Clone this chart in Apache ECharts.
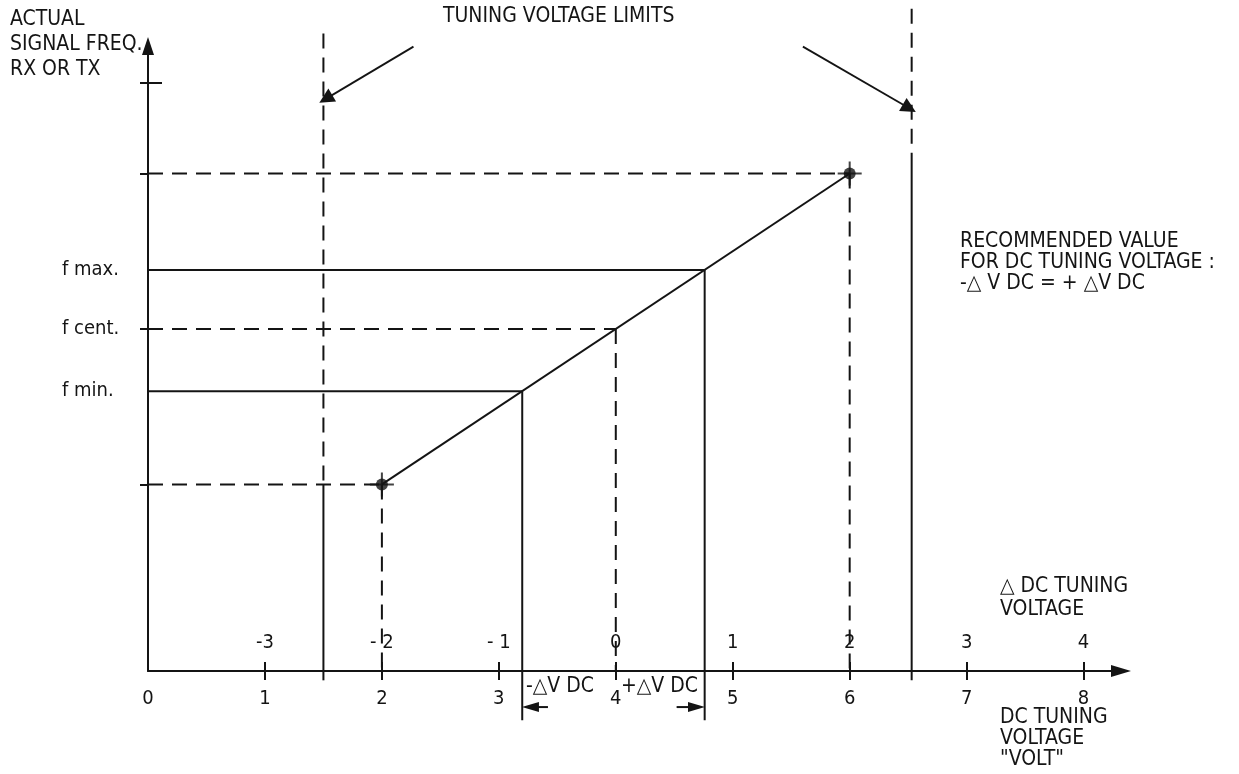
<!DOCTYPE html>
<html>
<head>
<meta charset="utf-8">
<title>DC tuning voltage</title>
<script src="https://cdn.jsdelivr.net/npm/echarts@6.0.0/dist/echarts.min.js"></script>
<style>
  html, body { margin: 0; padding: 0; background: #fff; }
  #chart { width: 1239px; height: 774px; }
</style>
</head>
<body>
<div id="chart"></div>
<script>
// values (x = DC volt, y = frequency, no unit)
const voltLabels = [0, 1, 2, 3, 4, 5, 6, 7, 8];
const voltTicks = [1, 2, 3, 4, 5, 6, 7, 8];
const deltaTicks = [-3, -2, -1, 0, 1, 2, 3, 4];
const deltaLabels = ['-3', '- 2', '- 1', '0', '1', '2', '3', '4'];
const curve = [[2, 3], [6, 8]];            // end points of the tuning line
const freqMarks = [4.5, 5.5, 6.45];        // f min, f cent, f max
const freqNames = ['f min.', 'f cent.', 'f max.'];
const voltMarks = [3.2, 4, 4.76];          // volts giving f min / f cent / f max
const limitVolts = [1.5, 6.53];            // tuning voltage limits
const freqTicks = [3, 5.5, 8, 9.46];
// pointers from the "limits" caption (must stay inside the axis range)
const limitArrows = [
  [[2.27, 10.04], [1.52, 9.2]],
  [[5.6, 10.04], [6.51, 9.05]]
];

const INK = '#141414';
const FONT = '"DejaVu Sans Condensed", "Liberation Sans Narrow", "DejaVu Sans", sans-serif';
const DASH = [15, 9];
const LW = 2;

const chart = echarts.init(document.getElementById('chart'));

// one straight piece, solid or dashed
function seg(points, dashed) {
  return {
    type: 'line',
    data: points,
    symbol: 'none',
    clip: false,
    silent: true,
    lineStyle: { color: INK, width: LW, type: dashed ? DASH : 'solid' }
  };
}

// dimension arrow below the axis, pointing at x = tip
function dimArrow(from, tip, y, dir) {
  return {
    type: 'line',
    clip: false,
    silent: true,
    lineStyle: { color: INK, width: LW },
    itemStyle: { color: INK },
    data: [
      { value: [from, y], symbol: 'none' },
      { value: [tip - dir * 0.07, y], symbol: 'triangle', symbolSize: [10, 17], symbolRotate: dir > 0 ? -90 : 90 }
    ]
  };
}

const series = [];

// tuning characteristic, with the two "limits" pointers
series.push(Object.assign(seg(curve, false), {
  itemStyle: { color: INK },
  markLine: {
    silent: true,
    symbol: ['none', 'triangle'],
    symbolSize: 15,
    label: { show: false },
    itemStyle: { color: INK },
    lineStyle: { color: INK, width: 1.8, type: 'solid' },
    data: limitArrows.map(a => [{ coord: a[0] }, { coord: a[1] }])
  }
}));

// dashed projections of the end points
curve.forEach(p => {
  series.push(seg([[0, p[1]], p], true));
  series.push(seg([p, [p[0], 0]], true));
});

// f min / f cent / f max
freqMarks.forEach((f, i) => {
  const dashed = i === 1;
  series.push(seg([[0, f], [voltMarks[i], f]], dashed));
  series.push(seg([[voltMarks[i], f], [voltMarks[i], dashed ? 0 : -0.79]], dashed));
});

// tuning voltage limits: dashed at the top, solid below the end point level
series.push(seg([[limitVolts[0], 10.25], [limitVolts[0], curve[0][1]]], true));
series.push(seg([[limitVolts[0], curve[0][1]], [limitVolts[0], -0.15]], false));
series.push(seg([[limitVolts[1], 10.65], [limitVolts[1], curve[1][1] + 0.2]], true));
series.push(seg([[limitVolts[1], curve[1][1] + 0.2], [limitVolts[1], -0.15]], false));

// -dV DC / +dV DC arrows
series.push(dimArrow(voltMarks[0] + 0.22, voltMarks[0], -0.58, -1));
series.push(dimArrow(voltMarks[2] - 0.24, voltMarks[2], -0.58, 1));

// end point dots with small crosses
series.push({
  type: 'scatter',
  data: curve,
  symbol: 'circle',
  symbolSize: 12,
  silent: true,
  itemStyle: { color: INK }
});
series.push({
  type: 'scatter',
  data: curve,
  symbol: 'path://M-1,-12 L1,-12 L1,-1 L12,-1 L12,1 L1,1 L1,12 L-1,12 L-1,1 L-12,1 L-12,-1 L-1,-1 Z',
  symbolSize: 24,
  silent: true,
  itemStyle: { color: INK }
});

const textStyle = { fontFamily: FONT, fontSize: 21, fill: INK };
function note(left, top, text, lineHeight) {
  return {
    type: 'text',
    left: left,
    top: top,
    silent: true,
    style: Object.assign({}, textStyle, { text: text, lineHeight: lineHeight || 22 })
  };
}

const tickLabel = { color: INK, fontFamily: FONT, fontSize: 20 };

const option = {
  animation: false,
  backgroundColor: '#fff',
  grid: { left: 148, right: 118, top: 46, bottom: 103, containLabel: false, outerBoundsMode: 'none' },
  xAxis: [
    {
      type: 'value',
      position: 'bottom',
      min: 0,
      max: 8.32,
      splitLine: { show: false },
      axisLine: { onZero: false, symbol: ['none', 'triangle'], symbolSize: [12, 20], lineStyle: { color: INK, width: LW } },
      axisTick: { customValues: voltTicks, length: 9, lineStyle: { color: INK, width: LW } },
      axisLabel: Object.assign({ customValues: voltLabels, margin: 18 }, tickLabel)
    },
    {
      type: 'value',
      position: 'bottom',
      min: -4,
      max: 4.32,
      splitLine: { show: false },
      axisLine: { show: false, onZero: false },
      axisTick: { inside: true, customValues: deltaTicks, length: 9, lineStyle: { color: INK, width: LW } },
      axisLabel: Object.assign({
        inside: true,
        customValues: deltaTicks,
        margin: 18,
        formatter: v => deltaLabels[deltaTicks.indexOf(v)]
      }, tickLabel)
    }
  ],
  yAxis: [
    {
      type: 'value',
      position: 'left',
      min: 0,
      max: 10.05,
      splitLine: { show: false },
      axisLine: { onZero: false, symbol: ['none', 'triangle'], symbolSize: [12, 18], lineStyle: { color: INK, width: LW } },
      axisTick: { customValues: freqTicks, length: 8, lineStyle: { color: INK, width: LW } },
      axisLabel: Object.assign({
        customValues: freqMarks,
        align: 'left',
        margin: 86,
        formatter: v => freqNames[freqMarks.indexOf(v)]
      }, tickLabel)
    },
    {
      type: 'value',
      position: 'left',
      offset: 0,
      min: 0,
      max: 10.05,
      splitLine: { show: false },
      axisLine: { show: false, onZero: false },
      axisTick: { inside: true, customValues: [freqTicks[3]], length: 14, lineStyle: { color: INK, width: LW } },
      axisLabel: { show: false }
    }
  ],
  graphic: [
    note(10, 7, 'ACTUAL\nSIGNAL FREQ.\nRX OR TX', 25),
    note(443, 6, 'TUNING VOLTAGE LIMITS'),
    note(960, 231, 'RECOMMENDED VALUE\nFOR DC TUNING VOLTAGE :\n-\u25B3 V DC = + \u25B3V DC', 21),
    note(1000, 575, '\u25B3 DC TUNING\nVOLTAGE', 23),
    note(1000, 707, 'DC TUNING\nVOLTAGE\n"VOLT"', 21),
    note(526, 676, '-\u25B3V DC'),
    note(621, 676, '+\u25B3V DC')
  ],
  series: series
};

chart.setOption(option);
</script>
</body>
</html>
